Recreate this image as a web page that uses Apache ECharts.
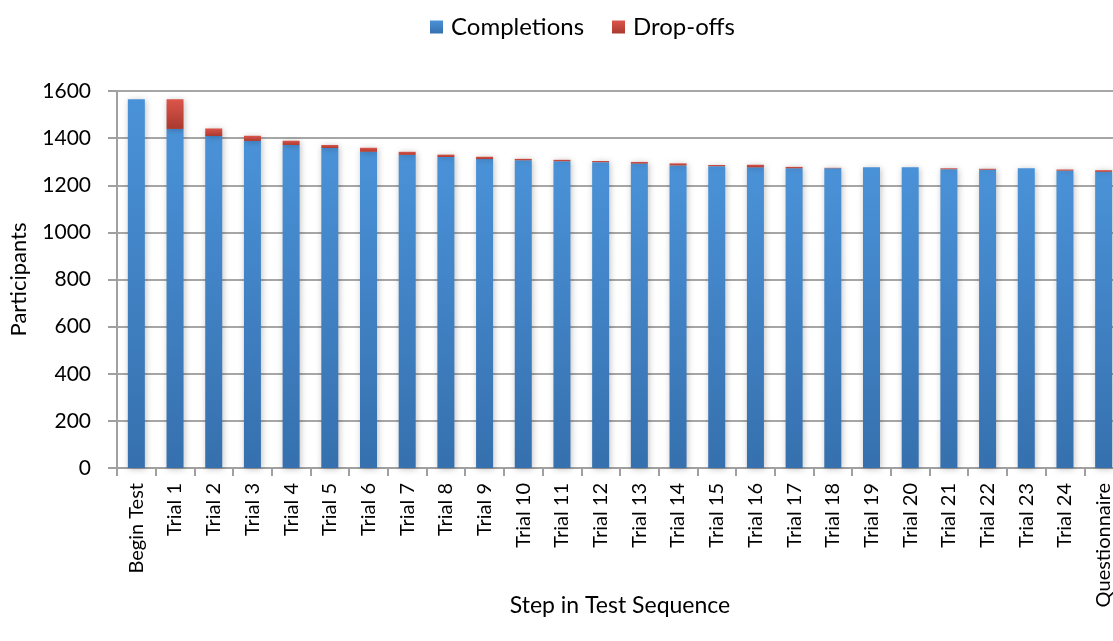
<!DOCTYPE html>
<html>
<head>
<meta charset="utf-8">
<script src="https://cdn.jsdelivr.net/npm/echarts@6/dist/echarts.min.js"></script>
<style>
  html, body { margin: 0; padding: 0; background: #fff; }
  #main { width: 1113px; height: 641px; }
</style>
</head>
<body>
<div id="main"></div>
<script>
// steps of the test sequence
const steps = ['Begin Test', 'Trial 1', 'Trial 2', 'Trial 3', 'Trial 4', 'Trial 5', 'Trial 6',
  'Trial 7', 'Trial 8', 'Trial 9', 'Trial 10', 'Trial 11', 'Trial 12', 'Trial 13', 'Trial 14',
  'Trial 15', 'Trial 16', 'Trial 17', 'Trial 18', 'Trial 19', 'Trial 20', 'Trial 21', 'Trial 22',
  'Trial 23', 'Trial 24', 'Questionnaire'];

const completions = [1565, 1439, 1409, 1388, 1371, 1358, 1342, 1329, 1320, 1311, 1306, 1302, 1298,
  1292, 1284, 1281, 1276, 1272, 1272, 1276, 1276, 1268, 1266, 1272, 1262, 1257];

const dropOffs = [0, 126, 32, 22, 18, 13, 17, 13, 10, 10, 6, 6, 5,
  7, 9, 5, 11, 6, 2, 0, 0, 4, 4, 0, 5, 7];

const font = 'Lato';

function grad(top, bottom) {
  return new echarts.graphic.LinearGradient(0, 0, 0, 1, [
    { offset: 0, color: top },
    { offset: 1, color: bottom }
  ]);
}

const chart = echarts.init(document.getElementById('main'));

chart.setOption({
  animation: false,
  textStyle: { fontFamily: font },
  legend: {
    top: 10,
    left: 425,
    icon: 'rect',
    itemWidth: 13,
    itemHeight: 13,
    itemGap: 28,
    textStyle: { fontFamily: font, fontSize: 24, color: '#000', padding: [0, 0, 0, 3] },
    data: ['Completions', 'Drop-offs']
  },
  grid: { left: 117, top: 91, right: -10, bottom: 173, outerBoundsMode: 'none' },
  xAxis: {
    type: 'category',
    data: steps,
    name: 'Step in Test Sequence',
    nameLocation: 'middle',
    nameGap: 126,
    nameMoveOverlap: false,
    nameTextStyle: { fontFamily: font, fontSize: 23, color: '#000', verticalAlign: 'top' },
    axisLine: { lineStyle: { color: '#a0a0a0', width: 2 } },
    axisTick: { show: true, length: 8, lineStyle: { color: '#a0a0a0', width: 2 } },
    axisLabel: { rotate: 90, fontFamily: font, fontSize: 20, color: '#000', margin: 15, interval: 0 }
  },
  yAxis: {
    type: 'value',
    min: 0,
    max: 1600,
    interval: 200,
    name: 'Participants',
    nameLocation: 'middle',
    nameGap: 87,
    nameMoveOverlap: false,
    nameTextStyle: { fontFamily: font, fontSize: 22, color: '#000' },
    axisLine: { show: true, lineStyle: { color: '#a0a0a0', width: 2 } },
    axisTick: { show: true, length: 9, lineStyle: { color: '#a0a0a0', width: 2 } },
    axisLabel: { fontFamily: font, fontSize: 21, color: '#000', margin: 26, formatter: v => String(v) },
    splitLine: { lineStyle: { color: '#a6a6a6', width: 2 } }
  },
  series: [
    {
      name: 'Completions',
      type: 'bar',
      stack: 'total',
      barWidth: 17,
      data: completions,
      itemStyle: {
        color: grad('#4a92d8', '#3670ae'),
        shadowBlur: 6,
        shadowColor: 'rgba(0,0,0,0.25)',
        shadowOffsetX: 1,
        shadowOffsetY: 1
      }
    },
    {
      name: 'Drop-offs',
      type: 'bar',
      stack: 'total',
      barWidth: 17,
      data: dropOffs,
      itemStyle: {
        color: grad('#dc554b', '#a9392f'),
        shadowBlur: 6,
        shadowColor: 'rgba(0,0,0,0.25)',
        shadowOffsetX: 1,
        shadowOffsetY: 1
      }
    }
  ]
});
</script>
</body>
</html>
